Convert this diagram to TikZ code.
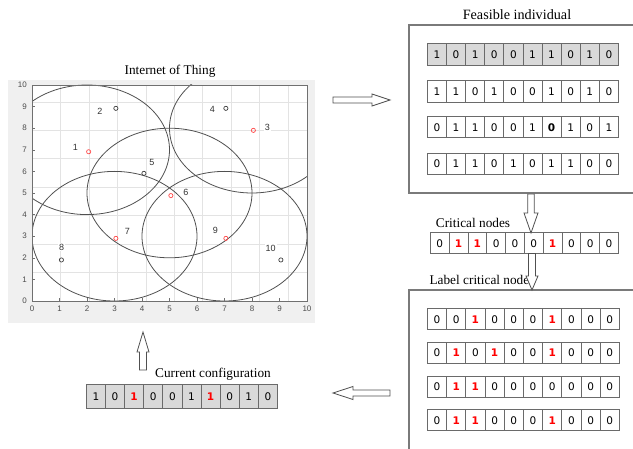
\documentclass[tikz,border=0pt]{standalone}
\usepackage{fontspec}
\setmainfont{Liberation Serif}
\newfontfamily\cellfont{DejaVu Sans}
\newfontfamily\plotfont{Liberation Sans}
\definecolor{plotbg}{HTML}{F0F0F0}
\definecolor{gridc}{HTML}{E3E3E3}
\definecolor{axisc}{HTML}{707070}
\definecolor{circc}{HTML}{505050}
\definecolor{cellline}{HTML}{6A6A6A}
\definecolor{cellgray}{HTML}{D9D9D9}
\definecolor{boxline}{HTML}{7A7A7A}
\definecolor{mkred}{HTML}{FF4A4A}
\newcommand\rb[1]{\textcolor{red}{\bfseries #1}}
\newcommand\bz{\bfseries 0}
\newcommand\cellrow[7]{%
  \foreach \v [count=\i] in {#7} {%
    \node[cell, fill=#6, minimum width=#4pt, minimum height=#5pt] (#1-\i) at ({#2+(\i-1)*#4},#3) {\v};}}
\begin{document}
\begin{tikzpicture}[x=1pt,y=-1pt,
  cell/.style={draw=cellline, line width=0.8pt, inner sep=0pt, anchor=north west,
    font=\cellfont\fontsize{10.5}{12}\selectfont},
  ttl/.style={font=\fontsize{13.3}{15}\selectfont, inner sep=0pt},
  boxl/.style={draw=boxline, line width=1.3pt},
  blk/.style={draw=circc, line width=0.8pt, fill=white, line join=miter},
  ticklab/.style={font=\plotfont\fontsize{8}{9}\selectfont, text=black!70, inner sep=0pt},
  nlab/.style={font=\plotfont\fontsize{9}{10}\selectfont, text=black!80, inner sep=1pt, fill=white},
  mk/.style={circle, draw=#1, line width=0.7pt, minimum size=4.2pt, inner sep=0pt},
  mk/.default=black!75,
  circ/.style={draw=circc, line width=0.8pt}]
\useasboundingbox (0,0) rectangle (633,449);
% ---------- plot ----------
\fill[plotbg] (8,80) rectangle (315,323);
\node[ttl] (title) at (170,71) {Internet of Thing};
\begin{scope}[shift={(32,301)}, x=27.5pt, y=21.6pt]
  \fill[white] (0,0) rectangle (10,10);
  \draw[gridc, line width=0.5pt] (0,0) grid (10,10);
  \begin{scope}
    \clip (0,0) rectangle (10,10);
    \foreach \c in {(2,7),(8,8),(5,5),(3,3),(7,3)}
      \draw[circ] \c ellipse [x radius=82.5pt, y radius=64.8pt];
  \end{scope}
  \draw[axisc, line width=0.7pt] (0,0) rectangle (10,10);
  \foreach \k in {0,...,10} {
    \draw[axisc, line width=0.5pt] (\k,0) -- ++(0,2.5pt) (0,\k) -- ++(2.5pt,0);
    \node[ticklab, anchor=north, yshift=-5pt] (xt\k) at (\k,0) {\k};
    \node[ticklab, anchor=east, xshift=-5pt] (yt\k) at (0,\k) {\k};
  }
  \node[mk=mkred] (n1) at (2.06,6.91) {};
  \node[mk] (n2) at (3.05,8.92) {};
  \node[mk=mkred] (n3) at (8.05,7.9) {};
  \node[mk] (n4) at (7.05,8.92) {};
  \node[mk] (n5) at (4.07,5.91) {};
  \node[mk=mkred] (n6) at (5.05,4.88) {};
  \node[mk=mkred] (n7) at (3.05,2.9) {};
  \node[mk] (n8) at (1.07,1.9) {};
  \node[mk=mkred] (n9) at (7.05,2.9) {};
  \node[mk] (n10) at (9.05,1.9) {};
  \node[nlab] (l1) at (1.58,7.1) {1};
  \node[nlab] (l2) at (2.47,8.8) {2};
  \node[nlab] (l3) at (8.56,8.02) {3};
  \node[nlab] (l4) at (6.56,8.89) {4};
  \node[nlab] (l5) at (4.36,6.4) {5};
  \node[nlab] (l6) at (5.6,5.03) {6};
  \node[nlab] (l7) at (3.47,3.24) {7};
  \node[nlab] (l8) at (1.08,2.49) {8};
  \node[nlab] (l9) at (6.67,3.29) {9};
  \node[nlab] (l10) at (8.68,2.44) {10};
\end{scope}
% ---------- feasible individual ----------
\node[ttl, font=\fontsize{14.2}{16}\selectfont] (feas) at (517,15) {Feasible individual};
\draw[boxl] (633,25) -- (409,25) -- (409,193) -- (633,193);
\cellrow{fa}{427}{43}{19.1}{22}{cellgray}{1,0,1,0,0,1,1,0,1,0}
\cellrow{fb}{427}{80}{19.1}{22}{white}{1,1,0,1,0,0,1,0,1,0}
\cellrow{fc}{427}{116.5}{19.1}{21}{white}{0,1,1,0,0,1,\bz,1,0,1}
\cellrow{fd}{427}{153}{19.1}{21}{white}{0,1,1,0,1,0,1,1,0,0}
% ---------- critical nodes ----------
\node[ttl] (crit) at (473,223) {Critical nodes};
\cellrow{cr}{430}{232.5}{18.8}{21}{white}{0,\rb1,\rb1,0,0,0,\rb1,0,0,0}
% ---------- label critical nodes ----------
\node[ttl] (lab) at (482,280) {Label critical nodes};
\draw[boxl] (633,290) -- (409,290) -- (409,449);
\cellrow{la}{427}{308.5}{19.2}{21}{white}{0,0,\rb1,0,0,0,\rb1,0,0,0}
\cellrow{lb}{427}{342}{19.2}{21}{white}{0,\rb1,0,\rb1,0,0,\rb1,0,0,0}
\cellrow{lc}{427}{376}{19.2}{21}{white}{0,\rb1,\rb1,0,0,0,0,0,0,0}
\cellrow{ld}{427}{409.5}{19.2}{21}{white}{0,\rb1,\rb1,0,0,0,\rb1,0,0,0}
% ---------- current configuration ----------
\node[ttl] (cur) at (213,374) {Current configuration};
\cellrow{cc}{86}{384.5}{19.1}{23.5}{cellgray}{1,0,\rb1,0,0,1,\rb1,0,1,0}
% ---------- block arrows ----------
\draw[blk] (333,97) -- (372,97) -- (372,94) -- (390,100) -- (372,106) -- (372,103) -- (333,103) -- cycle;
\draw[blk] (527.7,194) -- (527.7,213) -- (524,213) -- (531,233) -- (538,213) -- (534.3,213) -- (534.3,194) -- cycle;
\draw[blk] (528.5,253.5) -- (528.5,276) -- (526,276) -- (532,290) -- (538,276) -- (535.5,276) -- (535.5,253.5) -- cycle;
\draw[blk] (139.5,370) -- (139.5,352) -- (137,352) -- (143,332) -- (149,352) -- (146.5,352) -- (146.5,370) -- cycle;
\draw[blk] (390,390) -- (353,390) -- (353,386.5) -- (333,393) -- (353,399.5) -- (353,396) -- (390,396) -- cycle;
\end{tikzpicture}
\end{document}
